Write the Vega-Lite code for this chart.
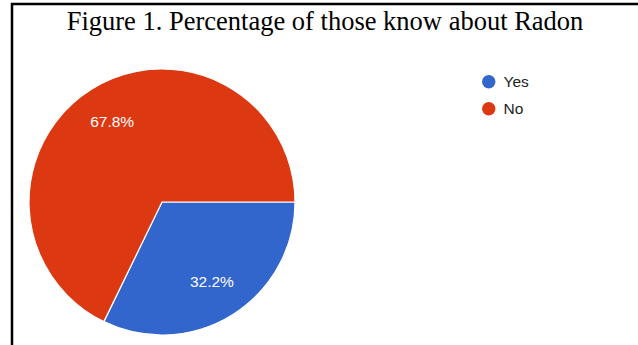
{
  "$schema": "https://vega.github.io/schema/vega-lite/v6.json",
  "autosize": "none",
  "width": 640,
  "height": 360,
  "padding": {"left": 12, "top": 4, "right": 0, "bottom": 0},
  "background": "white",
  "config": {
    "view": {"stroke": "black", "strokeWidth": 2.5},
    "font": "Liberation Sans"
  },
  "title": {
    "text": "Figure 1. Percentage of those know about Radon",
    "font": "Liberation Serif",
    "fontSize": 26.5,
    "fontWeight": "normal",
    "color": "black",
    "anchor": "middle",
    "offset": 0,
    "dy": 31,
    "dx": -7
  },
  "data": {
    "values": [
      {"answer": "Yes", "percent": 32.2, "label": "32.2%", "order": 1},
      {"answer": "No", "percent": 67.8, "label": "67.8%", "order": 2}
    ]
  },
  "encoding": {
    "color": {
      "field": "answer",
      "type": "nominal",
      "sort": ["Yes", "No"],
      "scale": {"domain": ["Yes", "No"], "range": ["#3366cc", "#dc3912"]},
      "legend": {
        "title": null,
        "orient": "none",
        "legendX": 469,
        "legendY": 70,
        "symbolType": "circle",
        "symbolSize": 180,
        "symbolStrokeWidth": 0,
        "labelFontSize": 15.5,
        "labelColor": "#222222",
        "labelFont": "Liberation Sans",
        "labelOffset": 7,
        "rowPadding": 10
      }
    }
  },
  "layer": [
    {
      "mark": {"type": "point", "opacity": 0},
      "encoding": {
        "x": {"field": "percent", "type": "quantitative", "axis": null},
        "y": {"field": "percent", "type": "quantitative", "axis": null}
      }
    },
    {
      "mark": {"type": "arc", "x": 150, "y": 198, "outerRadius": 133, "stroke": "white", "strokeWidth": 1.2},
      "encoding": {
        "theta": {"field": "percent", "type": "quantitative", "stack": true, "scale": {"range": [1.5708, 7.85398]}},
        "order": {"field": "order", "type": "quantitative"}
      }
    },
    {
      "mark": {"type": "text", "x": 150, "y": 198, "radius": 94, "fontSize": 15.5, "font": "Liberation Sans"},
      "encoding": {
        "theta": {"field": "percent", "type": "quantitative", "stack": true, "scale": {"range": [1.5708, 7.85398]}},
        "order": {"field": "order", "type": "quantitative"},
        "text": {"field": "label"},
        "color": {"value": "white"}
      }
    }
  ]
}
